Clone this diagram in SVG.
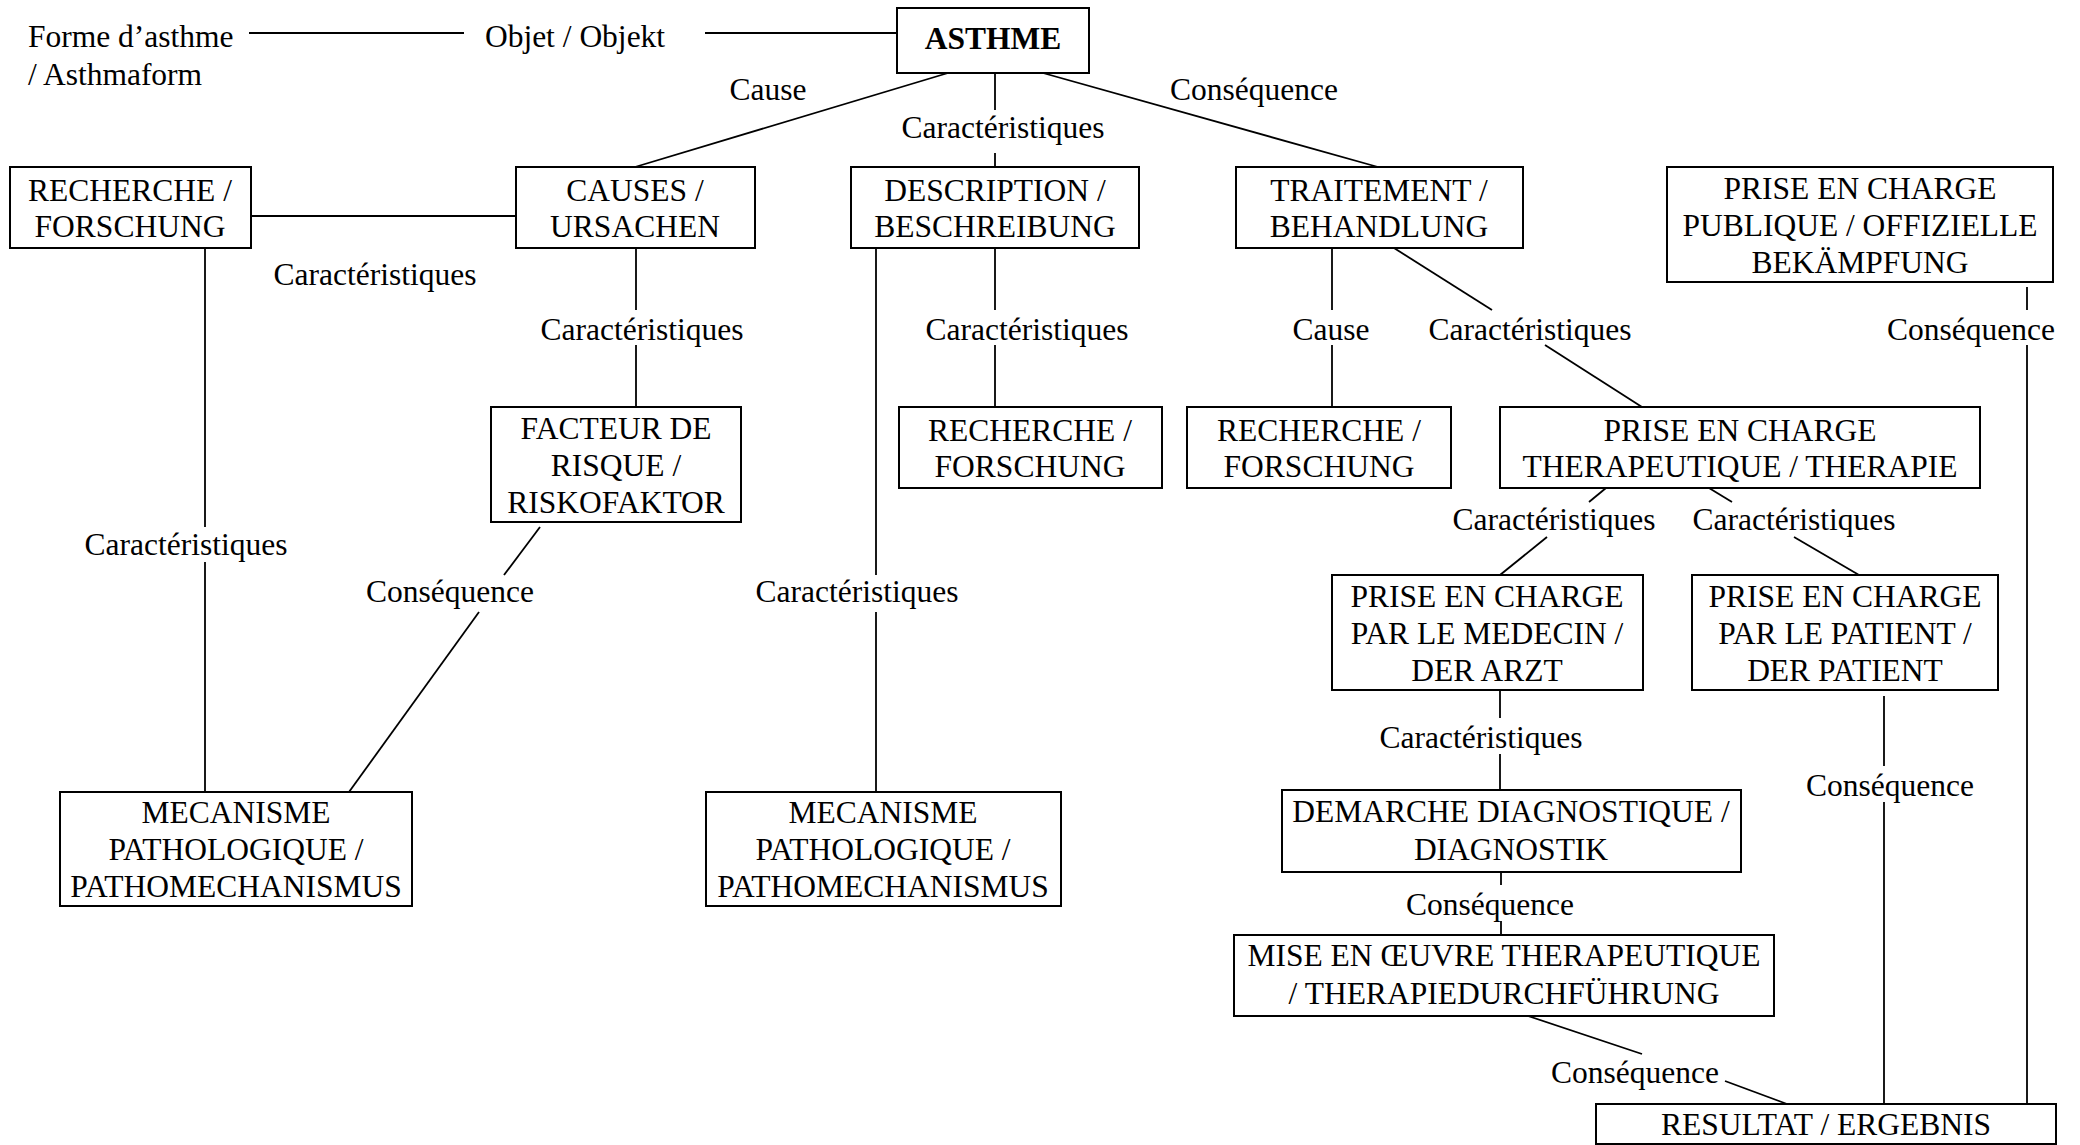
<svg xmlns="http://www.w3.org/2000/svg" width="2080" height="1145" viewBox="0 0 2080 1145">
  <style>
    text { font-family: "Liberation Serif", "Times New Roman", serif; font-size: 31.5px; fill: #000; }
    .c { text-anchor: middle; }
    .b { font-weight: bold; }
    .box { fill: #fff; stroke: #000; stroke-width: 2; }
    .ln { stroke: #000; stroke-width: 1.8; fill: none; }
  </style>
  <rect width="2080" height="1145" fill="#fff"/>

  <!-- connectors -->
  <g id="connectors" class="ln">
    <line x1="249" y1="33" x2="464" y2="33"/>
    <line x1="705" y1="33" x2="897" y2="33"/>
    <line x1="948" y1="73" x2="635" y2="167"/>
    <line x1="995" y1="73" x2="995" y2="110"/>
    <line x1="995" y1="153" x2="995" y2="167"/>
    <line x1="1043" y1="73" x2="1378" y2="167"/>
    <line x1="251" y1="216" x2="516" y2="216"/>
    <line x1="205" y1="248" x2="205" y2="527"/>
    <line x1="205" y1="562" x2="205" y2="792"/>
    <line x1="636" y1="248" x2="636" y2="310"/>
    <line x1="636" y1="345" x2="636" y2="407"/>
    <line x1="540" y1="527" x2="504" y2="575"/>
    <line x1="479" y1="612" x2="349" y2="792"/>
    <line x1="876" y1="248" x2="876" y2="575"/>
    <line x1="876" y1="612" x2="876" y2="792"/>
    <line x1="995" y1="248" x2="995" y2="310"/>
    <line x1="995" y1="345" x2="995" y2="407"/>
    <line x1="1332" y1="248" x2="1332" y2="310"/>
    <line x1="1332" y1="345" x2="1332" y2="407"/>
    <line x1="1394" y1="248" x2="1492" y2="310"/>
    <line x1="1545" y1="345" x2="1642" y2="407"/>
    <line x1="2027" y1="287" x2="2027" y2="310"/>
    <line x1="2027" y1="345" x2="2027" y2="1104"/>
    <line x1="1606" y1="488" x2="1589" y2="502"/>
    <line x1="1547" y1="537" x2="1500" y2="575"/>
    <line x1="1709" y1="488" x2="1732" y2="502"/>
    <line x1="1794" y1="537" x2="1859" y2="575"/>
    <line x1="1500" y1="690" x2="1500" y2="718"/>
    <line x1="1500" y1="754" x2="1500" y2="790"/>
    <line x1="1501" y1="872" x2="1501" y2="885"/>
    <line x1="1501" y1="921" x2="1501" y2="935"/>
    <line x1="1884" y1="696" x2="1884" y2="766"/>
    <line x1="1884" y1="802" x2="1884" y2="1104"/>
    <line x1="1528" y1="1016" x2="1642" y2="1054"/>
    <line x1="1725" y1="1081" x2="1787" y2="1104"/>
  </g>

  <!-- connector labels -->
  <g id="labels">
    <text x="28" y="47">Forme d’asthme</text>
    <text x="28" y="85">/ Asthmaform</text>
    <text class="c" x="575" y="47">Objet / Objekt</text>
    <text class="c" x="768" y="100">Cause</text>
    <text class="c" x="1003" y="138">Caractéristiques</text>
    <text class="c" x="1254" y="100">Conséquence</text>
    <text class="c" x="375" y="285">Caractéristiques</text>
    <text class="c" x="642" y="340">Caractéristiques</text>
    <text class="c" x="1027" y="340">Caractéristiques</text>
    <text class="c" x="1331" y="340">Cause</text>
    <text class="c" x="1530" y="340">Caractéristiques</text>
    <text class="c" x="1971" y="340">Conséquence</text>
    <text class="c" x="186" y="555">Caractéristiques</text>
    <text class="c" x="450" y="602">Conséquence</text>
    <text class="c" x="857" y="602">Caractéristiques</text>
    <text class="c" x="1554" y="530">Caractéristiques</text>
    <text class="c" x="1794" y="530">Caractéristiques</text>
    <text class="c" x="1481" y="748">Caractéristiques</text>
    <text class="c" x="1890" y="796">Conséquence</text>
    <text class="c" x="1490" y="915">Conséquence</text>
    <text class="c" x="1635" y="1083">Conséquence</text>
  </g>

  <!-- nodes -->
  <g id="asthme">
    <rect class="box" x="897" y="8" width="192" height="65"/>
    <text class="c b" x="993" y="49">ASTHME</text>
  </g>
  <g id="recherche-1">
    <rect class="box" x="10" y="167" width="241" height="81"/>
    <text class="c" x="130" y="201">RECHERCHE /</text>
    <text class="c" x="130" y="237">FORSCHUNG</text>
  </g>
  <g id="causes">
    <rect class="box" x="516" y="167" width="239" height="81"/>
    <text class="c" x="635" y="201">CAUSES /</text>
    <text class="c" x="635" y="237">URSACHEN</text>
  </g>
  <g id="description">
    <rect class="box" x="851" y="167" width="288" height="81"/>
    <text class="c" x="995" y="201">DESCRIPTION /</text>
    <text class="c" x="995" y="237">BESCHREIBUNG</text>
  </g>
  <g id="traitement">
    <rect class="box" x="1236" y="167" width="287" height="81"/>
    <text class="c" x="1379" y="201">TRAITEMENT /</text>
    <text class="c" x="1379" y="237">BEHANDLUNG</text>
  </g>
  <g id="prise-publique">
    <rect class="box" x="1667" y="167" width="386" height="115"/>
    <text class="c" x="1860" y="199">PRISE EN CHARGE</text>
    <text class="c" x="1860" y="236">PUBLIQUE / OFFIZIELLE</text>
    <text class="c" x="1860" y="273">BEKÄMPFUNG</text>
  </g>
  <g id="facteur">
    <rect class="box" x="491" y="407" width="250" height="115"/>
    <text class="c" x="616" y="439">FACTEUR DE</text>
    <text class="c" x="616" y="476">RISQUE /</text>
    <text class="c" x="616" y="513">RISKOFAKTOR</text>
  </g>
  <g id="recherche-2">
    <rect class="box" x="899" y="407" width="263" height="81"/>
    <text class="c" x="1030" y="441">RECHERCHE /</text>
    <text class="c" x="1030" y="477">FORSCHUNG</text>
  </g>
  <g id="recherche-3">
    <rect class="box" x="1187" y="407" width="264" height="81"/>
    <text class="c" x="1319" y="441">RECHERCHE /</text>
    <text class="c" x="1319" y="477">FORSCHUNG</text>
  </g>
  <g id="prise-therapeutique">
    <rect class="box" x="1500" y="407" width="480" height="81"/>
    <text class="c" x="1740" y="441">PRISE EN CHARGE</text>
    <text class="c" x="1740" y="477">THERAPEUTIQUE / THERAPIE</text>
  </g>
  <g id="prise-medecin">
    <rect class="box" x="1332" y="575" width="311" height="115"/>
    <text class="c" x="1487" y="607">PRISE EN CHARGE</text>
    <text class="c" x="1487" y="644">PAR LE MEDECIN /</text>
    <text class="c" x="1487" y="681">DER ARZT</text>
  </g>
  <g id="prise-patient">
    <rect class="box" x="1692" y="575" width="306" height="115"/>
    <text class="c" x="1845" y="607">PRISE EN CHARGE</text>
    <text class="c" x="1845" y="644">PAR LE PATIENT /</text>
    <text class="c" x="1845" y="681">DER PATIENT</text>
  </g>
  <g id="mecanisme-1">
    <rect class="box" x="60" y="792" width="352" height="114"/>
    <text class="c" x="236" y="823">MECANISME</text>
    <text class="c" x="236" y="860">PATHOLOGIQUE /</text>
    <text class="c" x="236" y="897">PATHOMECHANISMUS</text>
  </g>
  <g id="mecanisme-2">
    <rect class="box" x="706" y="792" width="355" height="114"/>
    <text class="c" x="883" y="823">MECANISME</text>
    <text class="c" x="883" y="860">PATHOLOGIQUE /</text>
    <text class="c" x="883" y="897">PATHOMECHANISMUS</text>
  </g>
  <g id="demarche">
    <rect class="box" x="1282" y="790" width="459" height="82"/>
    <text class="c" x="1511" y="822">DEMARCHE DIAGNOSTIQUE /</text>
    <text class="c" x="1511" y="860">DIAGNOSTIK</text>
  </g>
  <g id="mise-en-oeuvre">
    <rect class="box" x="1234" y="935" width="540" height="81"/>
    <text class="c" x="1504" y="966">MISE EN ŒUVRE THERAPEUTIQUE</text>
    <text class="c" x="1504" y="1004">/ THERAPIEDURCHFÜHRUNG</text>
  </g>
  <g id="resultat">
    <rect class="box" x="1596" y="1104" width="460" height="40"/>
    <text class="c" x="1826" y="1135">RESULTAT / ERGEBNIS</text>
  </g>
</svg>
